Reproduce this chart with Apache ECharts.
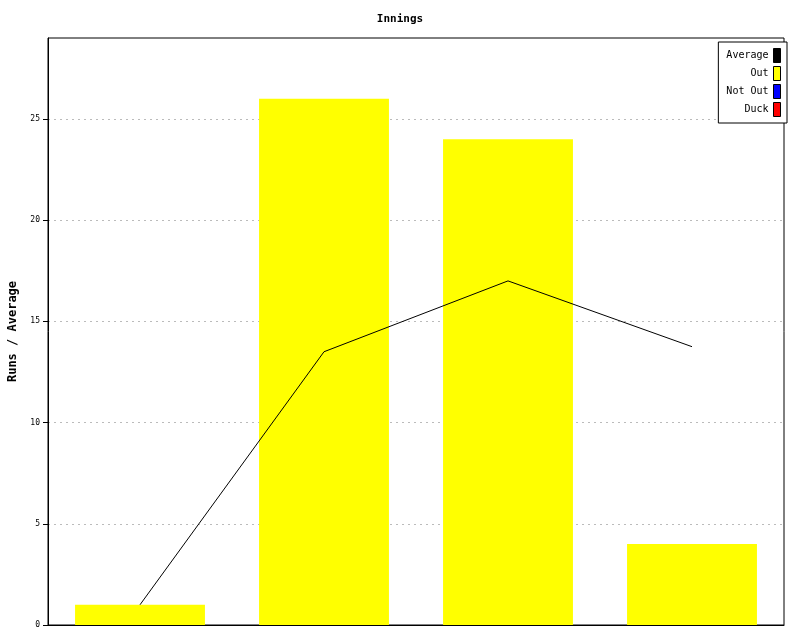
<!DOCTYPE html>
<html><head><meta charset="utf-8">
<script src="https://cdn.jsdelivr.net/npm/echarts@6/dist/echarts.min.js"></script>
<style>html,body{margin:0;padding:0;background:#fff}#c{width:800px;height:640px}</style>
</head><body><div id="c"></div>
<script>
var categories = ['1', '2', '3', '4'];
var outRuns = [1, 26, 24, 4];
var notOutRuns = [0, 0, 0, 0];
var duckRuns = [0, 0, 0, 0];
var average = [1, 13.5, 17, 13.75];
var yTicks = [0, 5, 10, 15, 20, 25];

var font = 'DejaVu Sans Mono';
var chart = echarts.init(document.getElementById('c'));
chart.setOption({
  animation: false,
  backgroundColor: '#fff',
  title: { text: 'Innings', left: 'center', top: 9, textStyle: { fontFamily: font, fontSize: 11, fontWeight: 'bold', color: '#000' } },
  grid: { left: 48, right: 16, top: 38, bottom: 15, containLabel: false, outerBoundsMode: 'none', show: true, borderColor: '#000', borderWidth: 1, backgroundColor: '#fff' },
  legend: {
    orient: 'vertical', right: 13, top: 42, align: 'right',
    itemWidth: 7, itemHeight: 14, itemGap: 3,
    padding: [6, 6, 6, 8],
    borderColor: '#000', borderWidth: 1, backgroundColor: '#fff',
    textStyle: { fontFamily: font, fontSize: 10, color: '#000', lineHeight: 14, padding: [0, 0, 0, 0] },
    data: [
      { name: 'Average', icon: 'rect', itemStyle: { color: '#000', borderColor: '#000', borderWidth: 1 } },
      { name: 'Out', icon: 'rect', itemStyle: { color: '#ffff00', borderColor: '#000', borderWidth: 1 } },
      { name: 'Not Out', icon: 'rect', itemStyle: { color: '#0000ff', borderColor: '#000', borderWidth: 1 } },
      { name: 'Duck', icon: 'rect', itemStyle: { color: '#ff0000', borderColor: '#000', borderWidth: 1 } }
    ]
  },
  xAxis: {
    type: 'category', data: categories,
    axisLine: { lineStyle: { color: '#000' } },
    axisTick: { show: false }, axisLabel: { show: false }
  },
  yAxis: {
    type: 'value', min: 0, max: 29, interval: 5,
    name: 'Runs / Average', nameLocation: 'middle', nameGap: 29, nameRotate: 90,
    nameTextStyle: { fontFamily: font, fontSize: 12, fontWeight: 'bold', color: '#000' },
    axisLine: { show: true, lineStyle: { color: '#000' } },
    axisTick: { show: true, length: 5, lineStyle: { color: '#000' } },
    axisLabel: { fontFamily: font, fontSize: 8, color: '#000', margin: 8, showMaxLabel: false,
      formatter: function (v) { return yTicks.indexOf(v) >= 0 ? String(v) : ''; } },
    splitLine: { show: true, showMaxLine: false, showMinLine: false, lineStyle: { color: '#bbb', type: [2, 4] } }
  },
  series: [
    { name: 'Out', type: 'bar', stack: 'r', data: outRuns, barWidth: '70.6%', itemStyle: { color: '#ffff00' }, z: 2 },
    { name: 'Not Out', type: 'bar', stack: 'r', data: notOutRuns, itemStyle: { color: '#0000ff' }, z: 2 },
    { name: 'Duck', type: 'bar', stack: 'r', data: duckRuns, itemStyle: { color: '#ff0000' }, z: 2 },
    { name: 'Average', type: 'line', data: average, showSymbol: false, symbol: 'none', lineStyle: { color: '#000', width: 1 }, itemStyle: { color: '#000' }, z: 3 }
  ]
});
</script></body></html>
